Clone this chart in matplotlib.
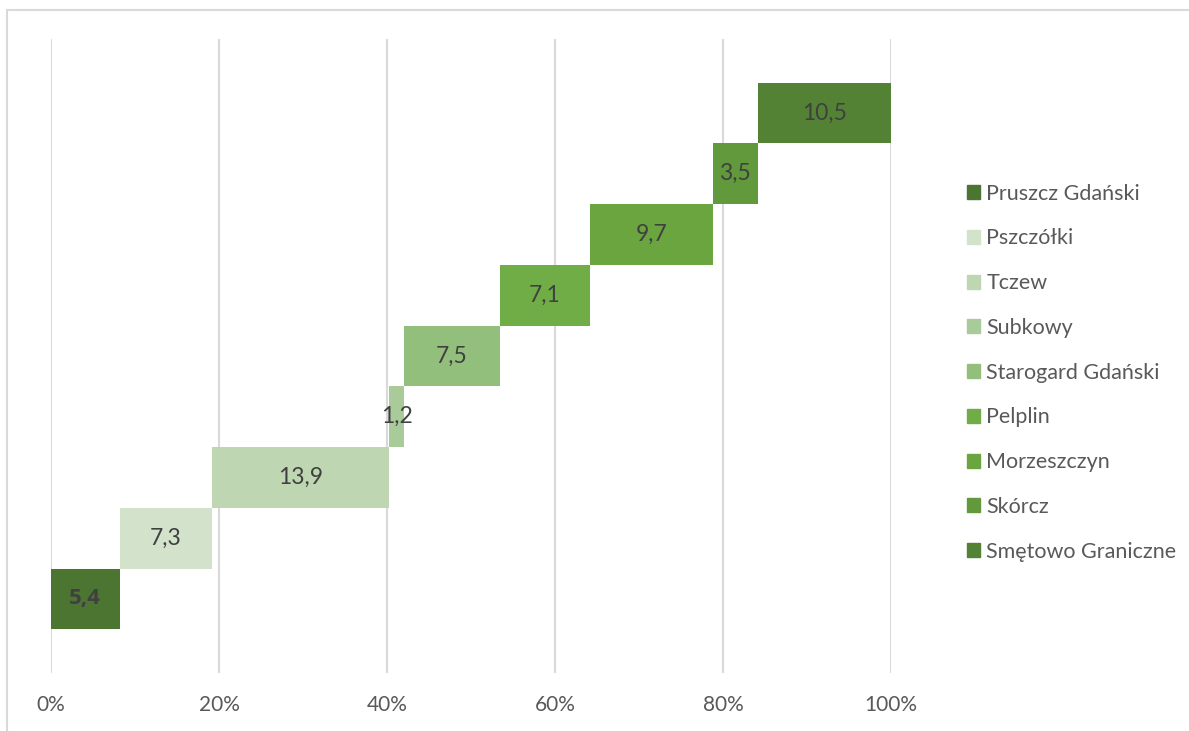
import numpy as np
import matplotlib
matplotlib.use("Agg")
import matplotlib.pyplot as plt
from matplotlib.patches import Rectangle, Patch
from matplotlib.ticker import PercentFormatter

# gminy i ich udziały
gminy = ['Pruszcz Gdański', 'Pszczółki', 'Tczew', 'Subkowy', 'Starogard Gdański',
         'Pelplin', 'Morzeszczyn', 'Skórcz', 'Smętowo Graniczne']
wartosci = [5.4, 7.3, 13.9, 1.2, 7.5, 7.1, 9.7, 3.5, 10.5]
kolory = ['#4b7530', '#d3e2cb', '#bed6b2', '#a9ca99', '#93bf7c',
          '#70ad47', '#6aa540', '#62993c', '#548235']
ticks = [0, 0.2, 0.4, 0.6, 0.8, 1.0]

plt.rcParams['font.family'] = ['Lato', 'DejaVu Sans']

vals = np.array(wartosci)
szer = vals / vals.sum()
lewe = np.concatenate([[0], np.cumsum(szer)[:-1]])
y = np.arange(len(gminy))

W, H = 1189, 731
fig = plt.figure(figsize=(W / 100, H / 100), dpi=100)
ax = fig.add_axes([51 / W, 1 - 673 / H, 840 / W, 634 / H])

for i in range(len(gminy)):
    ax.barh(y[i], szer[i], left=lewe[i], height=1.0, color=kolory[i],
            label=gminy[i], zorder=3)
    txt = ('%.1f' % wartosci[i]).replace('.', ',')
    if i == 0:
        ax.text(lewe[i] + szer[i] / 2, y[i], txt, ha='center', va='center',
                fontsize=16, color='#404040', zorder=4, fontweight='bold',
                family=['Open Sans', 'DejaVu Sans'])
    else:
        ax.text(lewe[i] + szer[i] / 2, y[i], txt, ha='center', va='center',
                fontsize=16.5, color='#404040', zorder=4)

ax.set_xlim(0, 1)
ax.set_ylim(-1.22, 9.22)
ax.set_xticks(ticks)
ax.xaxis.set_major_formatter(PercentFormatter(1.0, decimals=0))
ax.set_yticks([])
ax.tick_params(axis='x', length=0, labelsize=15, colors='#595959', pad=16)
ax.grid(axis='x', color='#d9d9d9', linewidth=1.5, zorder=0)
for s in ax.spines.values():
    s.set_visible(False)

handles = [Patch(color=kolory[i], label=gminy[i]) for i in range(len(gminy))]
leg = fig.legend(handles=handles, loc='upper left', bbox_to_anchor=(958 / W, 1 - 175 / H),
                 frameon=False, fontsize=15.5, labelcolor='#595959',
                 handlelength=0.62, handleheight=0.62, handletextpad=0.3,
                 labelspacing=1.15, borderaxespad=0)

# ramka wykresu
fig.patches.append(Rectangle((7 / W, -0.1), 1.2, 1 - 10 / H + 0.1,
                             transform=fig.transFigure, fill=False,
                             edgecolor='#d9d9d9', linewidth=1.5))

fig.savefig('out.png', dpi=100)
